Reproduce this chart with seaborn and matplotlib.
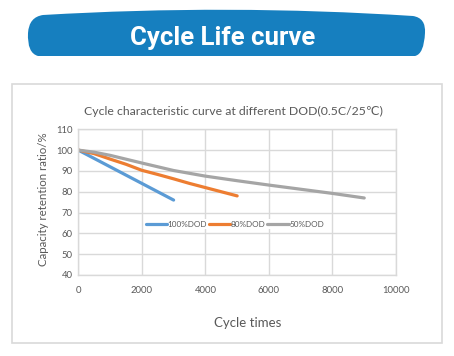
import numpy as np
import pandas as pd
import seaborn as sns
import matplotlib.pyplot as plt
from matplotlib.path import Path
from matplotlib.patches import PathPatch, Rectangle

# values
cycles_100 = [0, 1000, 2000, 3000]
retention_100 = [100, 92, 84, 76]

cycles_80 = [0, 500, 1000, 1500, 2000, 2500, 3000, 3500, 4000, 4500, 5000]
retention_80 = [100, 98.3, 95.7, 93.2, 90.3, 88.3, 86.2, 84.0, 82.0, 80.0, 78.0]

cycles_50 = [0, 500, 1000, 2000, 3000, 4000, 5000, 6000, 7000, 8000, 9000]
retention_50 = [100, 99.0, 97.5, 93.8, 90.2, 87.5, 85.3, 83.2, 81.2, 79.2, 77.0]

series_names = ["100%DOD", "80%DOD", "50%DOD"]
series_colors = ["#5b9bd5", "#ed7d31", "#a5a5a5"]
x_ticks = [0, 2000, 4000, 6000, 8000, 10000]
y_ticks = [40, 50, 60, 70, 80, 90, 100, 110]

df = pd.concat([
    pd.DataFrame({"cycles": cycles_100, "retention": retention_100, "series": series_names[0]}),
    pd.DataFrame({"cycles": cycles_80, "retention": retention_80, "series": series_names[1]}),
    pd.DataFrame({"cycles": cycles_50, "retention": retention_50, "series": series_names[2]}),
])

sns.set_theme(style="white")
plt.rcParams["font.family"] = ["Lato", "DejaVu Sans"]

W, H = 454, 356
fig = plt.figure(figsize=(W / 100, H / 100), dpi=100)


def fx(x):
    return x / W


def fy(y):
    return 1 - y / H


# blue banner with the big title
verts = [
    (43, 15), (228, 4), (413, 16),
    (426, 18), (425, 33),
    (424, 54), (415, 56),
    (38, 56),
    (27, 53), (28, 33),
    (29, 17), (43, 15),
]
codes = [Path.MOVETO, Path.CURVE3, Path.CURVE3,
         Path.CURVE3, Path.CURVE3,
         Path.CURVE3, Path.CURVE3,
         Path.LINETO,
         Path.CURVE3, Path.CURVE3,
         Path.CURVE3, Path.CURVE3]
banner = PathPatch(Path([(fx(x), fy(y)) for x, y in verts], codes),
                   transform=fig.transFigure, facecolor="#167fbf", edgecolor="none")
fig.patches.append(banner)
fig.text(fx(223), fy(45), "Cycle Life curve", color="white", fontsize=18.5,
         fontweight="bold", family=["Roboto", "DejaVu Sans"], ha="center", va="baseline")

# chart frame
fig.patches.append(Rectangle((fx(12), fy(343)), fx(442) - fx(12), fy(84) - fy(343),
                             transform=fig.transFigure, facecolor="none",
                             edgecolor="#d9d9d9", lw=1.2))

ax = fig.add_axes([fx(78.3), fy(275), fx(396) - fx(78.3), fy(129.3) - fy(275)])
sns.lineplot(data=df, x="cycles", y="retention", hue="series", palette=series_colors,
             hue_order=series_names, linewidth=2.3, ax=ax, sort=False)

ax.set_xlim(0, 10000)
ax.set_ylim(40, 110)
ax.set_xticks(x_ticks)
ax.set_yticks(y_ticks)
ax.grid(True, color="#d9d9d9", linewidth=1.0)
ax.set_axisbelow(True)
for s in ax.spines.values():
    s.set_color("#d9d9d9")
    s.set_linewidth(1.0)
ax.tick_params(axis="both", length=0, labelsize=6.8, labelcolor="#595959")
ax.tick_params(axis="x", pad=8)
ax.tick_params(axis="y", pad=4)

ax.set_xlabel("Cycle times", fontsize=9.5, color="#595959")
ax.xaxis.set_label_coords((247.5 - 78.3) / (396 - 78.3), -0.285)
ax.set_ylabel("Capacity retention ratio/%", fontsize=8.3, color="#595959")
ax.yaxis.set_label_coords((49.3 - 78.3) / (396 - 78.3), 0.52)

fig.text(fx(233), fy(111), "Cycle characteristic curve at different DOD(0.5C/25℃)",
         fontsize=8.8, color="#595959", ha="center", va="center")

leg = ax.legend(loc="center", bbox_to_anchor=(0.493, 0.348), ncol=3, fontsize=5.9,
                frameon=True, edgecolor="none", facecolor="white", framealpha=1,
                handlelength=2.6, handletextpad=0.1, columnspacing=0.2,
                borderpad=0.2, fancybox=False)
for t in leg.get_texts():
    t.set_color("#595959")

fig.savefig("out.png", dpi=100)
